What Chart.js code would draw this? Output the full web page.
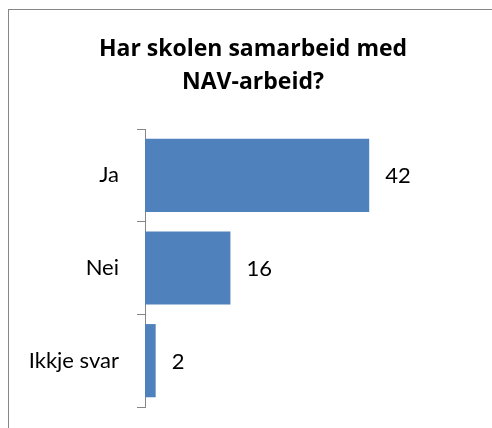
<!DOCTYPE html>
<html>
<head>
<meta charset="utf-8">
<script src="https://cdn.jsdelivr.net/npm/chart.js@4/dist/chart.umd.min.js"></script>
<style>
  html, body { margin: 0; padding: 0; background: #ffffff; }
  #wrap { position: relative; width: 492px; height: 428px; }
</style>
</head>
<body>
<div id="wrap"><canvas id="chart" width="492" height="428"></canvas></div>
<script>
"use strict";

const categories = ['Ja', 'Nei', 'Ikkje svar'];
const values = [42, 16, 2];
const title_lines = ['Har skolen samarbeid med', 'NAV-arbeid?'];
const x_max = 65;

const font_family = 'Lato, "Open Sans", sans-serif';
const title_family = '"Open Sans", Lato, sans-serif';
const axis_color = '#868686';

// outer frame of the chart object, cut off at right and bottom
const framePlugin = {
  id: 'frame',
  beforeDraw(chart) {
    const ctx = chart.ctx;
    ctx.save();
    ctx.fillStyle = '#ffffff';
    ctx.fillRect(0, 0, chart.width, chart.height);
    ctx.strokeStyle = axis_color;
    ctx.lineWidth = 1;
    ctx.strokeRect(8.5, 9.5, chart.width + 20, chart.height + 20);
    ctx.restore();
  }
};

// value labels at the end of each bar
const valueLabels = {
  id: 'valueLabels',
  afterDatasetsDraw(chart) {
    const ctx = chart.ctx;
    const meta = chart.getDatasetMeta(0);
    ctx.save();
    ctx.font = '22px ' + font_family;
    ctx.fillStyle = '#000000';
    ctx.textAlign = 'left';
    ctx.textBaseline = 'middle';
    meta.data.forEach((bar, i) => {
      ctx.fillText(String(values[i]), bar.x + 16, bar.y + 1);
    });
    ctx.restore();
  }
};

new Chart(document.getElementById('chart'), {
  type: 'bar',
  data: {
    labels: categories,
    datasets: [{
      data: values,
      backgroundColor: '#4F81BD',
      borderWidth: 0,
      categoryPercentage: 1,
      barPercentage: 0.79,
    }],
  },
  options: {
    indexAxis: 'y',
    responsive: false,
    animation: false,
    layout: {
      padding: { left: 14, right: 0, top: 0, bottom: 21 },
    },
    plugins: {
      legend: { display: false },
      tooltip: { enabled: false },
      title: {
        display: true,
        text: title_lines,
        color: '#000000',
        font: { family: title_family, size: 23, weight: 'bold', lineHeight: 1.435 },
        padding: { top: 33, bottom: 30 },
      },
    },
    scales: {
      x: {
        display: false,
        min: 0,
        max: x_max,
      },
      y: {
        afterFit(scale) {
          scale.width = 131;
          // labels sit in the middle of the bands, no extra room needed
          scale.paddingTop = 0;
          scale.paddingBottom = 0;
        },
        grid: {
          drawOnChartArea: false,
          drawTicks: true,
          tickLength: 8,
          color: axis_color,
          offset: true,
        },
        border: { display: true, color: axis_color, width: 1 },
        ticks: {
          color: '#000000',
          padding: 18,
          font: { family: font_family, size: 22 },
        },
      },
    },
  },
  plugins: [framePlugin, valueLabels],
});
</script>
</body>
</html>
